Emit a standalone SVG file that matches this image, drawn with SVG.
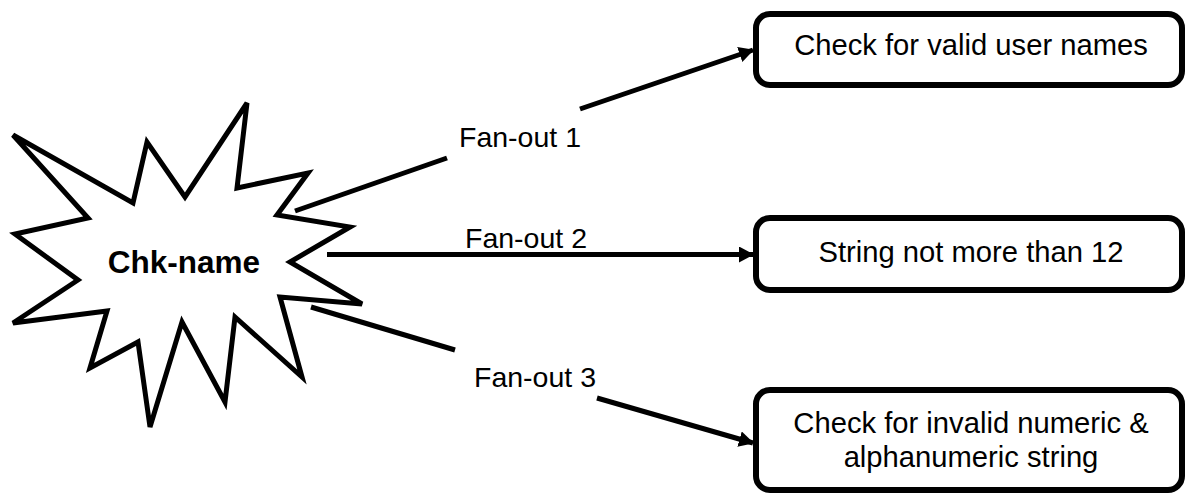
<svg xmlns="http://www.w3.org/2000/svg" width="1185" height="493" viewBox="0 0 1185 493">
<style>
.box{fill:#fff;stroke:#000;stroke-width:6}
.lbl{font-family:"Liberation Sans",Arial,sans-serif;font-size:28.5px;fill:#000;text-anchor:middle}
.btxt{font-size:29.2px}
.conn{stroke:#000;stroke-width:5;fill:none}
</style>
<defs>
<marker id="ah" markerUnits="userSpaceOnUse" markerWidth="16" markerHeight="18" refX="14" refY="8" orient="auto">
<path d="M0,0 L15,8 L0,16 z" fill="#000"/>
</marker>
</defs>
<rect width="1185" height="493" fill="#fff"/>
<g id="chk-name">
<polygon points="13,135 88,218 15,234 78,280 13,323 107,311 90,368 138,342 150,427 182,322 225,402 235,317 302,377 280,297 362,304 290,262 350,227 277,215 308,173 237,188 247,103 185,197 147,142 133,203" fill="#fff" stroke="#000" stroke-width="5" stroke-linejoin="miter"/>
<text x="184" y="273" class="lbl" style="font-weight:bold;font-size:31.5px">Chk-name</text>
</g>
<g id="connectors">
<line class="conn" x1="295" y1="211" x2="447" y2="158"/>
<line class="conn" x1="580" y1="109" x2="753" y2="50" marker-end="url(#ah)"/>
<line class="conn" x1="327" y1="254.5" x2="753" y2="254.5" marker-end="url(#ah)"/>
<line class="conn" x1="311" y1="307" x2="455" y2="350"/>
<line class="conn" x1="597" y1="398" x2="753" y2="443" marker-end="url(#ah)"/>
<text x="520" y="147" class="lbl">Fan-out 1</text>
<text x="526" y="248" class="lbl">Fan-out 2</text>
<text x="535" y="387" class="lbl">Fan-out 3</text>
</g>
<g id="box1">
<rect class="box" x="756" y="14" width="426" height="71" rx="14"/>
<text x="971" y="55" class="lbl btxt">Check for valid user names</text>
</g>
<g id="box2">
<rect class="box" x="756" y="218" width="426" height="72" rx="14"/>
<text x="971" y="262" class="lbl btxt">String not more than 12</text>
</g>
<g id="box3">
<rect class="box" x="756" y="390" width="426" height="100" rx="14"/>
<text x="971" y="433" class="lbl btxt">Check for invalid numeric &amp;</text>
<text x="971" y="467" class="lbl btxt">alphanumeric string</text>
</g>
</svg>
